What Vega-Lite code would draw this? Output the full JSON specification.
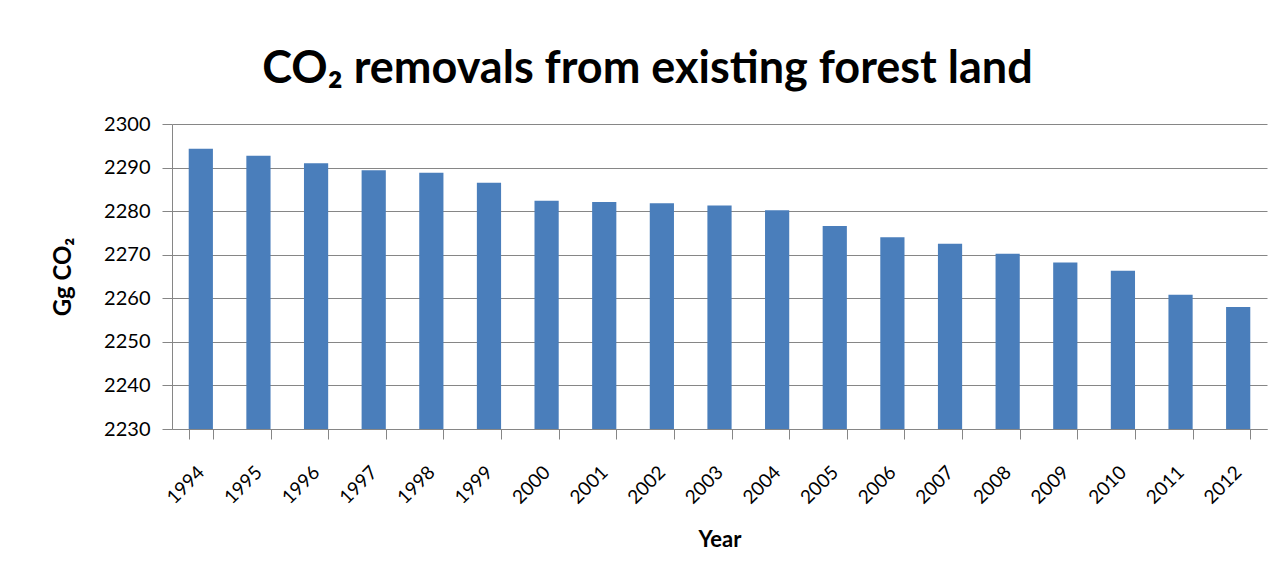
{
  "$schema": "https://vega.github.io/schema/vega-lite/v6.json",
  "width": 1095,
  "height": 305,
  "padding": {"left": 51, "top": 47, "right": 10, "bottom": 5},
  "background": "white",
  "title": {
    "text": "CO₂ removals from existing forest land",
    "font": "Lato",
    "fontSize": 45,
    "fontWeight": "bold",
    "color": "#000000",
    "anchor": "middle",
    "dx": -72,
    "offset": 22
  },
  "data": {
    "values": [
      {"Year": "1994", "value": 2294.3},
      {"Year": "1995", "value": 2292.7},
      {"Year": "1996", "value": 2291.0},
      {"Year": "1997", "value": 2289.4},
      {"Year": "1998", "value": 2288.8},
      {"Year": "1999", "value": 2286.5},
      {"Year": "2000", "value": 2282.4},
      {"Year": "2001", "value": 2282.1},
      {"Year": "2002", "value": 2281.8},
      {"Year": "2003", "value": 2281.3},
      {"Year": "2004", "value": 2280.2},
      {"Year": "2005", "value": 2276.6},
      {"Year": "2006", "value": 2274.0},
      {"Year": "2007", "value": 2272.5},
      {"Year": "2008", "value": 2270.2},
      {"Year": "2009", "value": 2268.2},
      {"Year": "2010", "value": 2266.3},
      {"Year": "2011", "value": 2260.8},
      {"Year": "2012", "value": 2258.0}
    ]
  },
  "mark": {"type": "bar", "color": "#4a7ebb", "clip": true},
  "encoding": {
    "x": {
      "field": "Year",
      "type": "ordinal",
      "scale": {"paddingInner": 0.58, "paddingOuter": 0.29},
      "axis": {
        "title": "Year",
        "titleFont": "Lato",
        "titleFontSize": 22,
        "titleFontWeight": "bold",
        "titleColor": "#000000",
        "titlePadding": 22,
        "labelFont": "Lato",
        "labelFontSize": 19,
        "labelColor": "#000000",
        "labelAngle": -45,
        "labelAlign": "right",
        "labelBaseline": "middle",
        "labelPadding": 30,
        "tickBand": "extent",
        "domainColor": "#868686",
        "tickColor": "#868686",
        "tickSize": 10,
        "grid": false
      }
    },
    "y": {
      "field": "value",
      "type": "quantitative",
      "scale": {"domain": [2230, 2300], "zero": false, "nice": false},
      "axis": {
        "title": "Gg CO₂",
        "titleFont": "Lato",
        "titleFontSize": 24,
        "titleFontWeight": "bold",
        "titleColor": "#000000",
        "titlePadding": 28,
        "values": [2230, 2240, 2250, 2260, 2270, 2280, 2290, 2300],
        "format": "d",
        "labelFont": "Lato",
        "labelFontSize": 20,
        "labelColor": "#000000",
        "labelPadding": 12,
        "domainColor": "#868686",
        "tickColor": "#868686",
        "tickSize": 10,
        "gridColor": "#868686",
        "gridWidth": 1
      }
    }
  },
  "config": {
    "view": {"stroke": null}
  }
}
